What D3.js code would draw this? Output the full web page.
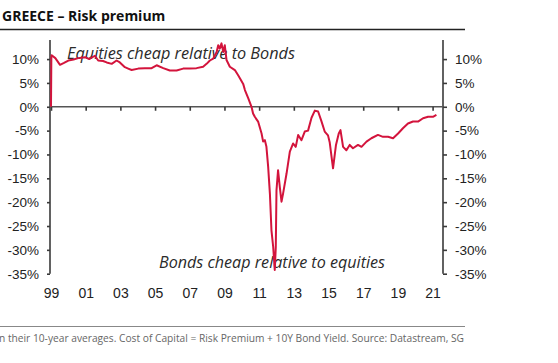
<!DOCTYPE html>
<html><head><meta charset="utf-8">
<script src="https://cdn.jsdelivr.net/npm/d3@7"></script>
<style>
html,body{margin:0;padding:0;background:#fff;}
svg{display:block;}
</style></head>
<body>
<svg id="chart" width="558" height="363"></svg>
<script>
// ---- data ----
const years = [1999.00,1999.02,1999.04,1999.25,1999.52,1999.75,2000.00,2000.3,2000.57,2000.96,2001.2,2001.53,2001.72,2002.0,2002.21,2002.50,2002.78,2002.97,2003.26,2003.45,2003.65,2004.03,2004.41,2004.80,2005.09,2005.47,2005.85,2006.24,2006.62,2007.01,2007.39,2007.77,2007.97,2008.16,2008.35,2008.55,2008.64,2008.73,2008.83,2008.93,2009.02,2009.12,2009.31,2009.60,2009.79,2009.89,2010.08,2010.18,2010.37,2010.56,2010.65,2010.75,2010.94,2011.14,2011.23,2011.33,2011.42,2011.52,2011.62,2011.71,2011.81,2011.90,2011.96,2012.00,2012.09,2012.19,2012.29,2012.38,2012.58,2012.77,2012.96,2013.11,2013.25,2013.44,2013.63,2013.82,2014.02,2014.21,2014.40,2014.59,2014.78,2014.97,2015.07,2015.26,2015.43,2015.59,2015.69,2015.84,2016.03,2016.22,2016.41,2016.70,2016.90,2017.19,2017.47,2017.85,2018.14,2018.43,2018.72,2019.01,2019.29,2019.58,2019.87,2020.16,2020.45,2020.74,2021.02,2021.22];
const premium = [0,10.3,10.8,10.2,8.8,9.2,9.7,9.9,10.2,10.4,10.0,10.7,9.7,9.6,9.3,9.0,9.7,9.3,8.3,8.0,7.7,8.0,8.1,8.1,8.7,8.1,7.6,7.6,8.0,8.0,8.1,8.4,9.0,9.7,10.1,11.5,12.9,12.2,13.3,11.5,12.9,9.8,8.4,7.7,6.6,6.0,4.8,3.5,1.8,0,-1.4,-2.1,-3.1,-5.6,-7.3,-7.0,-8.4,-12.6,-18.2,-25.9,-29.4,-34.2,-29.4,-17.5,-13.3,-16.8,-19.9,-18.2,-14.0,-9.4,-7.7,-8.4,-5.9,-7.0,-5.2,-5.0,-2.3,-0.8,-1.0,-3.0,-5.2,-6.0,-7.5,-12.9,-8.0,-5.6,-4.9,-8.4,-9.1,-8.0,-8.7,-8.0,-8.4,-7.3,-6.6,-5.9,-6.3,-6.3,-6.6,-5.6,-4.5,-3.5,-3.1,-3.1,-2.4,-2.1,-2.1,-1.7];
const yTicks = [-35,-30,-25,-20,-15,-10,-5,0,5,10];
const xTickYears = [1999,2001,2003,2005,2007,2009,2011,2013,2015,2017,2019,2021];
const xTickLabels = ["99","01","03","05","07","09","11","13","15","17","19","21"];
const title = "GREECE \u2013 Risk premium";
const noteTop = "Equities cheap relative to Bonds";
const noteBottom = "Bonds cheap relative to equities";
const footer = "n their 10-year averages. Cost of Capital = Risk Premium + 10Y Bond Yield. Source: Datastream, SG";

const svg = d3.select("#chart");
const x = d3.scaleLinear().domain([1999, 2021.6]).range([51, 443]);
const y = d3.scaleLinear().domain([-35, 14]).range([273.7, 40]);
const axisColor = "#3a3a3a";
const tickFont = "'Liberation Sans', Arial, sans-serif";

// title
svg.append("text").attr("x", 2).attr("y", 21)
  .attr("font-family", "'Open Sans', sans-serif").attr("font-weight", 700)
  .attr("font-size", 14).attr("fill", "#111").text(title);
svg.append("line").attr("x1", 0).attr("x2", 465).attr("y1", 29.5).attr("y2", 29.5)
  .attr("stroke", "#222").attr("stroke-width", 1.5);

// footer
svg.append("line").attr("x1", 0).attr("x2", 465).attr("y1", 326.5).attr("y2", 326.5)
  .attr("stroke", "#888").attr("stroke-width", 1);
svg.append("text").attr("x", -1).attr("y", 342)
  .attr("font-family", "'Open Sans', sans-serif").attr("font-size", 10)
  .attr("fill", "#666").attr("textLength", 465).attr("lengthAdjust", "spacingAndGlyphs")
  .text(footer);

// annotations (behind line)
svg.append("text").attr("x", 67).attr("y", 59)
  .attr("font-family", "'Open Sans', sans-serif").attr("font-style", "italic")
  .attr("font-size", 16).attr("fill", "#2a2a2a")
  .attr("textLength", 228).attr("lengthAdjust", "spacingAndGlyphs").text(noteTop);
svg.append("text").attr("x", 159).attr("y", 268)
  .attr("font-family", "'Open Sans', sans-serif").attr("font-style", "italic")
  .attr("font-size", 16).attr("fill", "#2a2a2a")
  .attr("textLength", 226).attr("lengthAdjust", "spacingAndGlyphs").text(noteBottom);

// left axis
const fmt = d => d + "%";
const gL = svg.append("g").attr("transform", "translate(50,0)")
  .call(d3.axisLeft(y).tickValues(yTicks).tickFormat(fmt).tickSize(3).tickPadding(8));
// right axis
const gR = svg.append("g").attr("transform", "translate(443,0)")
  .call(d3.axisRight(y).tickValues(yTicks).tickFormat(fmt).tickSize(4).tickPadding(8));
[gL, gR].forEach(g => {
  g.select(".domain").attr("stroke", axisColor).attr("stroke-width", 1.6)
    .attr("d", `M0,${y(14)}V${y(-35)}`);
  g.selectAll(".tick line").attr("stroke", axisColor).attr("stroke-width", 1.6);
  g.selectAll(".tick text").attr("font-family", tickFont).attr("font-size", 13.5)
    .attr("fill", "#222");
});

// x axis on zero line
const gX = svg.append("g").attr("transform", `translate(0,${y(0)})`)
  .call(d3.axisBottom(x).tickValues(xTickYears).tickFormat(() => "").tickSize(4));
gX.select(".domain").attr("stroke", "#555").attr("stroke-width", 1.6)
  .attr("d", `M${x.range()[0]},0H${x.range()[1]}`);
gX.selectAll(".tick line").attr("stroke", axisColor).attr("stroke-width", 1.6);

// x labels at the bottom
const gXL = svg.append("g").attr("transform", "translate(0,273.7)")
  .call(d3.axisBottom(x).tickValues(xTickYears).tickFormat((d, i) => xTickLabels[i]).tickSize(0).tickPadding(14));
gXL.select(".domain").remove();
gXL.selectAll(".tick text").attr("font-family", tickFont).attr("font-size", 14).attr("fill", "#222");

// line
const line = d3.line().x((d, i) => x(years[i])).y(d => y(d)).curve(d3.curveLinear);
svg.append("path").datum(premium).attr("d", line)
  .attr("fill", "none").attr("stroke", "#d3143c").attr("stroke-width", 2)
  .attr("stroke-linejoin", "round");
</script>
</body></html>
